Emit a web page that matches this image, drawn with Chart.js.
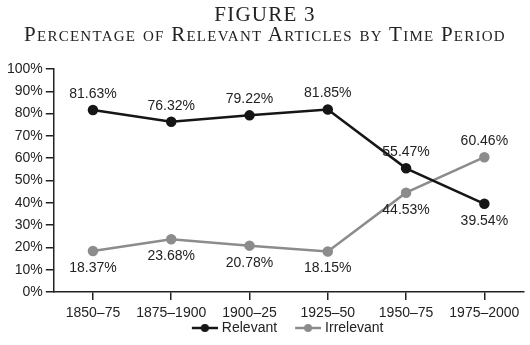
<!DOCTYPE html>
<html>
<head>
<meta charset="utf-8">
<script src="https://cdn.jsdelivr.net/npm/chart.js@4"></script>
<style>
  html, body { margin: 0; padding: 0; background: #fff; }
  #wrap { position: relative; width: 530px; height: 345px; }
  #title {
    position: absolute; left: 0; top: 0; width: 530px; text-align: center;
    font-family: "Liberation Serif", serif; font-size: 21px; line-height: 20px;
    color: #222; letter-spacing: 1.25px; padding-top: 4px;
  }
  #title .lc { font-size: 22px; font-variant: small-caps; }
  #chart { position: absolute; left: 0; top: 0; }
</style>
</head>
<body>
<div id="wrap">
  <canvas id="chart" width="530" height="345"></canvas>
  <div id="title">FIGURE 3<br>P<span class="lc">ercentage of</span> R<span class="lc">elevant</span> A<span class="lc">rticles by</span> T<span class="lc">ime</span> P<span class="lc">eriod</span></div>
</div>
<script>
const periods = ['1850–75', '1875–1900', '1900–25', '1925–50', '1950–75', '1975–2000']
const relevant = [81.63, 76.32, 79.22, 81.85, 55.47, 39.54]
const irrelevant = [18.37, 23.68, 20.78, 18.15, 44.53, 60.46]
const yTicks = [0, 10, 20, 30, 40, 50, 60, 70, 80, 90, 100]

const textColor = '#222'
const font = "'Liberation Sans', Arial, sans-serif"

// line-with-dot legend marker, drawn at the right of a wider transparent image
function legendMarker(color) {
  const c = document.createElement('canvas')
  c.width = 45
  c.height = 12
  const g = c.getContext('2d')
  g.strokeStyle = color
  g.lineWidth = 2.5
  g.beginPath()
  g.moveTo(19, 6)
  g.lineTo(45, 6)
  g.stroke()
  g.fillStyle = color
  g.beginPath()
  g.arc(32, 6, 4, 0, Math.PI * 2)
  g.fill()
  return c
}

// value labels above or below each point
const valueLabels = {
  id: 'valueLabels',
  afterDatasetsDraw(chart) {
    const ctx = chart.ctx
    const sets = chart.data.datasets
    ctx.save()
    ctx.font = '14px ' + font
    ctx.fillStyle = textColor
    ctx.textAlign = 'center'
    ctx.textBaseline = 'middle'
    sets.forEach((ds, i) => {
      const other = sets[1 - i].data
      chart.getDatasetMeta(i).data.forEach((pt, j) => {
        const above = ds.data[j] > other[j]
        const y = above ? pt.y - 16 : pt.y + 17
        ctx.fillText(ds.data[j].toFixed(2) + '%', pt.x, y)
      })
    })
    ctx.restore()
  }
}

// nudge the legend a bit left of the plot centre, as in the original
const legendShift = {
  id: 'legendShift',
  afterLayout(chart) {
    chart.legend.left -= 9
    chart.legend.right -= 9
  }
}

new Chart(document.getElementById('chart'), {
  type: 'line',
  data: {
    labels: periods,
    datasets: [{
      label: 'Relevant',
      data: relevant,
      borderColor: '#161616',
      backgroundColor: '#161616',
      borderWidth: 2.5,
      pointRadius: 4,
      fill: false
    },
    {
      label: 'Irrelevant',
      data: irrelevant,
      borderColor: '#8c8c8c',
      backgroundColor: '#8c8c8c',
      borderWidth: 2.5,
      pointRadius: 4,
      fill: false
    }]
  },
  options: {
    responsive: false,
    animation: false,
    layout: { padding: { top: 69, left: 4, right: 2, bottom: 0 } },
    plugins: {
      tooltip: { enabled: false },
      legend: {
        position: 'bottom',
        fullSize: false,
        labels: {
          color: textColor,
          font: { family: font, size: 14, lineHeight: 1 },
          usePointStyle: true,
          pointStyleWidth: 39,
          padding: 2,
          generateLabels(chart) {
            return chart.data.datasets.map((ds, i) => ({
              text: ds.label,
              pointStyle: legendMarker(ds.borderColor),
              fillStyle: ds.borderColor,
              strokeStyle: ds.borderColor,
              lineWidth: 0,
              fontColor: textColor,
              datasetIndex: i
            }))
          }
        }
      }
    },
    scales: {
      x: {
        offset: true,
        afterFit(axis) {
          axis.height -= 7
        },
        grid: { display: true, drawOnChartArea: false, offset: false, tickLength: 8, color: '#222', lineWidth: 1.5 },
        border: { display: true, color: '#222', width: 1.5 },
        ticks: { color: textColor, font: { family: font, size: 14, lineHeight: 1 }, padding: 6, maxRotation: 0 }
      },
      y: {
        min: 0,
        max: 100,
        afterBuildTicks(axis) {
          axis.ticks = yTicks.map(v => ({ value: v }))
        },
        grid: { display: true, drawOnChartArea: false, tickLength: 8, color: '#222', lineWidth: 1.5 },
        border: { display: true, color: '#222', width: 1.5 },
        ticks: { color: textColor, font: { family: font, size: 14 }, padding: 3, callback: v => v + '%' }
      }
    }
  },
  plugins: [valueLabels, legendShift]
})
</script>
</body>
</html>
